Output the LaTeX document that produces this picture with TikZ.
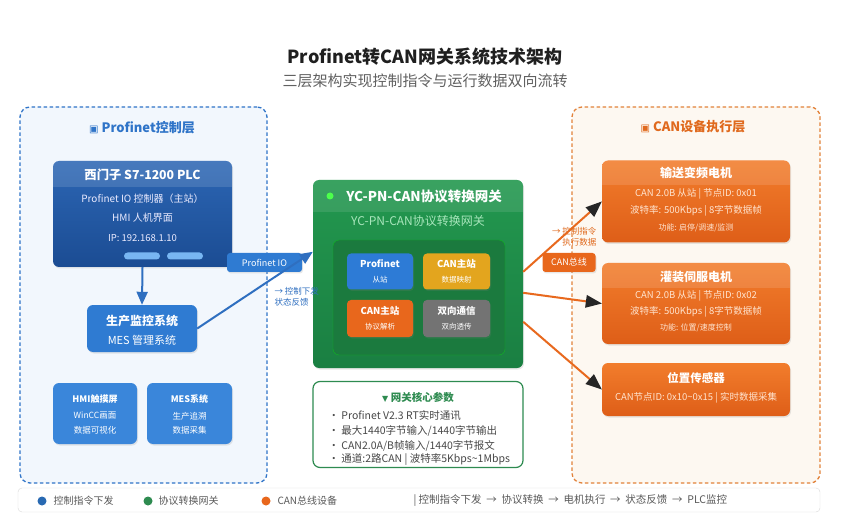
\documentclass[tikz,border=0pt]{standalone}
\usepackage{fontspec}
\setmainfont{Noto Sans CJK SC}
\newfontfamily\symfont{DejaVu Sans}
\usetikzlibrary{calc,shadows,arrows.meta}

\definecolor{pnline}{HTML}{2F74C8}
\definecolor{pnbg}{HTML}{F2F7FD}
\definecolor{plctop}{HTML}{2C66B4}
\definecolor{plcbot}{HTML}{1B4C93}
\definecolor{mesblue}{HTML}{2F7BD2}
\definecolor{hmiblue}{HTML}{3A86DA}
\definecolor{pillblue}{HTML}{78B6F2}
\definecolor{gwtop}{HTML}{23984F}
\definecolor{gwbot}{HTML}{1A7F42}
\definecolor{gwinner}{HTML}{1B7A3E}
\definecolor{gwsubtxt}{HTML}{A8E6BC}
\definecolor{slotblue}{HTML}{2D7BD6}
\definecolor{slotamber}{HTML}{E3A51E}
\definecolor{slotorange}{HTML}{E8671C}
\definecolor{slotgray}{HTML}{737373}
\definecolor{parline}{HTML}{2E8B50}
\definecolor{canline}{HTML}{E2823A}
\definecolor{canbg}{HTML}{FDF8F1}
\definecolor{cantxt}{HTML}{E06A1E}
\definecolor{motortop}{HTML}{F27D2C}
\definecolor{motorbot}{HTML}{DE5E18}
\definecolor{motortxt}{HTML}{FFE4CF}
\definecolor{arrowblue}{HTML}{2F6FC0}
\definecolor{arroworange}{HTML}{E8691E}
\definecolor{tipdark}{HTML}{262626}

\newcommand\fsz[1]{\fontsize{#1}{#1}\selectfont}

\begin{document}
\begin{tikzpicture}[
    x=1pt, y=-1pt,
    box/.style={inner sep=0pt, rounded corners=6pt,
      drop shadow={opacity=.18, shadow xshift=1pt, shadow yshift=-1.5pt}},
    layer/.style={inner sep=0pt, rounded corners=10pt,
      dash pattern=on 3.5pt off 2.5pt, line width=1.3pt},
    layerhead/.style={font=\bfseries\fsz{13}},
    tag/.style={box, rounded corners=3pt, text=white, font=\fsz{9}},
    slot/.style={box, rounded corners=4pt, minimum width=66, minimum height=36},
    slottitle/.style={text=white, font=\bfseries\fsz{9.5}},
    slotsub/.style={text=white!85, font=\fsz{7.5}},
    wtitle/.style={text=white, font=\bfseries\fsz{12.3}},
    plcline/.style={text=blue!8, font=\fsz{10}},
    motortitle/.style={text=white, font=\bfseries\fsz{12}},
    motorline/.style={text=motortxt, font=\fsz{9.5}},
    bullet/.style={anchor=west, text=black!72, font=\fsz{10.5}},
    legendtext/.style={anchor=west, text=black!65, font=\fsz{10}},
    dot/.style={circle, inner sep=0pt, minimum size=9},
    bluearrow/.style={draw=arrowblue, line width=2pt,
      -{Triangle[length=13pt, width=11pt]}},
    orangeline/.style={draw=arroworange, line width=2pt, shorten >=8pt},
    darktip/.style={fill=tipdark},
  ]

  \useasboundingbox (0,0) rectangle (845,518);
  \fill[white] (0,0) rectangle (845,518);

  % title
  \node[font=\bfseries\fsz{18}, text=black!88] (title) at (425,57) {Profinet转CAN网关系统技术架构};
  \node[font=\fsz{15}, text=black!62] (subtitle) at (425,81) {三层架构实现控制指令与运行数据双向流转};

  % Profinet control layer
  \node[layer, draw=pnline, fill=pnbg, minimum width=247, minimum height=376] (ctrlpanel) at (143.5,295) {};
  \node[layerhead, text=pnline] (ctrlhead) at (142,128) {{\symfont\fsz{10}▣} Profinet控制层};

  \node[box, top color=plctop, bottom color=plcbot, minimum width=179, minimum height=106] (plc) at (142.5,214) {};
  \coordinate (plchdr) at (142.5,187);
  \fill[white, fill opacity=.13] (plc.west |- plchdr) [rounded corners=6pt] -- (plc.north west)
    -- (plc.north east) [sharp corners] -- (plc.east |- plchdr) -- cycle;
  \node[wtitle] (plctitle) at (142.5,175) {西门子 S7-1200 PLC};
  \node[plcline] (plcio) at (142.5,199) {Profinet IO 控制器（主站）};
  \node[plcline] (plchmi) at (142.5,218) {HMI 人机界面};
  \node[plcline, font=\fsz{9.5}] (plcip) at (142.5,238) {IP: 192.168.1.10};
  \node[fill=pillblue, rounded corners=3.5pt, minimum width=36, minimum height=7, inner sep=0pt] (pillA) at (142,256) {};
  \node[fill=pillblue, rounded corners=3.5pt, minimum width=36, minimum height=7, inner sep=0pt] (pillB) at (185,256) {};

  \node[box, fill=mesblue, minimum width=110, minimum height=47] (mes) at (142,328.5) {};
  \node[wtitle, font=\bfseries\fsz{12}] (mestitle) at (142,321) {生产监控系统};
  \node[text=white!90, font=\fsz{11}] (messub) at (142,340) {MES 管理系统};

  \node[box, fill=hmiblue, minimum width=84, minimum height=61] (hmi) at (95,413.5) {};
  \node[text=white, font=\bfseries\fsz{9}] (hmititle) at (95,399) {HMI触摸屏};
  \node[slotsub, font=\fsz{8.5}] (hmiA) at (95,416) {WinCC画面};
  \node[slotsub, font=\fsz{8.5}] (hmiB) at (95,430) {数据可视化};

  \node[box, fill=hmiblue, minimum width=85, minimum height=61] (messys) at (189.5,413.5) {};
  \node[text=white, font=\bfseries\fsz{9}] (messystitle) at (189.5,399) {MES系统};
  \node[slotsub, font=\fsz{8.5}] (messysA) at (189.5,416) {生产追溯};
  \node[slotsub, font=\fsz{8.5}] (messysB) at (189.5,430) {数据采集};

  \draw[bluearrow] (plc.south) -- (mes.north);

  % CAN execution layer
  \node[layer, draw=canline, fill=canbg, minimum width=248, minimum height=376] (execpanel) at (696,295) {};
  \node[layerhead, text=cantxt] (exechead) at (693,127) {{\symfont\fsz{10}▣} CAN设备执行层};

  \node[box, top color=motortop, bottom color=motorbot, minimum width=188, minimum height=82] (motorA) at (696,201.5) {};
  \fill[white, fill opacity=.12] (motorA.west |- 0,185) [rounded corners=6pt] -- (motorA.north west)
    -- (motorA.north east) [sharp corners] -- (motorA.east |- 0,185) -- cycle;
  \node[motortitle] (motorAt) at (696,173) {输送变频电机};
  \node[motorline] (motorA1) at (696,194) {CAN 2.0B 从站 | 节点ID: 0x01};
  \node[motorline] (motorA2) at (696,211) {波特率: 500Kbps | 8字节数据帧};
  \node[motorline, font=\fsz{8}] (motorA3) at (696,228) {功能: 启停/调速/监测};

  \node[box, top color=motortop, bottom color=motorbot, minimum width=188, minimum height=81] (motorB) at (696,303.5) {};
  \fill[white, fill opacity=.12] (motorB.west |- 0,288) [rounded corners=6pt] -- (motorB.north west)
    -- (motorB.north east) [sharp corners] -- (motorB.east |- 0,288) -- cycle;
  \node[motortitle] (motorBt) at (696,277) {灌装伺服电机};
  \node[motorline] (motorB1) at (696,296) {CAN 2.0B 从站 | 节点ID: 0x02};
  \node[motorline] (motorB2) at (696,312) {波特率: 500Kbps | 8字节数据帧};
  \node[motorline, font=\fsz{8}] (motorB3) at (696,328) {功能: 位置/速度控制};

  \node[box, top color=motortop, bottom color=motorbot, minimum width=188, minimum height=53] (sensor) at (696,389.5) {};
  \node[motortitle, font=\bfseries\fsz{11.5}] (sensort) at (696,378) {位置传感器};
  \node[motorline] (sensor1) at (696,398) {CAN节点ID: 0x10\textasciitilde 0x15 | 实时数据采集};

  % gateway
  \node[box, top color=gwtop, bottom color=gwbot, minimum width=210, minimum height=188] (gw) at (418,274) {};
  \fill[white, fill opacity=.1] (gw.west |- 0,212) [rounded corners=6pt] -- (gw.north west)
    -- (gw.north east) [sharp corners] -- (gw.east |- 0,212) -- cycle;
  \node[dot, fill=green!70!white, minimum size=7] (gwdot) at (330,196) {};
  \node[text=white, font=\bfseries\fsz{13.5}] (gwtitle) at (424,196) {YC-PN-CAN协议转换网关};
  \node[text=gwsubtxt, font=\fsz{12}] (gwsub) at (418,221) {YC-PN-CAN协议转换网关};
  \node[fill=gwinner, draw=green!45!gwinner, rounded corners=6pt, minimum width=172, minimum height=115, inner sep=0pt] (gwcore) at (419,297.5) {};

  \node[slot, fill=slotblue] (pnslave) at (380,271.5) {};
  \node[slottitle] at (380,264) (pnslaveT) {Profinet};
  \node[slotsub] at (380,280) (pnslaveS) {从站};
  \node[slot, fill=slotamber, minimum width=67] (canmap) at (456.5,271.5) {};
  \node[slottitle] at (456.5,264) (canmapT) {CAN主站};
  \node[slotsub] at (456.5,280) (canmapS) {数据映射};
  \node[slot, fill=slotorange, minimum height=37] (canparse) at (380,318.5) {};
  \node[slottitle] at (380,311) (canparseT) {CAN主站};
  \node[slotsub] at (380,327) (canparseS) {协议解析};
  \node[slot, fill=slotgray, minimum width=67, minimum height=37] (biway) at (456.5,318.5) {};
  \node[slottitle] at (456.5,311) (biwayT) {双向通信};
  \node[slotsub] at (456.5,327) (biwayS) {双向透传};

  % gateway parameters
  \node[fill=white, draw=parline, line width=1.2pt, rounded corners=7pt, minimum width=210, minimum height=86, inner sep=0pt] (params) at (418,424.5) {};
  \node[text=parline, font=\bfseries\fsz{10.5}] (parhead) at (418,397) {{\symfont\fsz{8}▼} 网关核心参数};
  \node[bullet] (parA) at (325,416) {• Profinet V2.3 RT实时通讯};
  \node[bullet] (parB) at (325,431) {• 最大1440字节输入/1440字节输出};
  \node[bullet] (parC) at (325,446) {• CAN2.0A/B帧输入/1440字节报文};
  \node[bullet] (parD) at (325,460) {• 通道:2路CAN | 波特率5Kbps\textasciitilde 1Mbps};

  % Profinet link
  \node[tag, fill=mesblue, minimum width=75, minimum height=19] (pnio) at (264.5,262.5) {Profinet IO};
  \coordinate (gwin) at ($(gw.north west)+(0,72)$);
  \draw[bluearrow] (mes.east) -- (gwin);
  \node[text=arrowblue, font=\fsz{8.5}, align=left, anchor=west] (pntext) at (271,297) {→ 控制下发\\[2pt]状态反馈};

  % CAN bus links
  \coordinate (gwoutA) at ($(gw.north east)+(0,92)$);
  \coordinate (gwoutB) at ($(gw.north east)+(0,113)$);
  \coordinate (gwoutC) at ($(gw.north east)+(0,142)$);
  \draw[orangeline] (gwoutA) -- (motorA.west);
  \draw[orangeline] (gwoutB) -- (motorB.west);
  \draw[orangeline] (gwoutC) -- (sensor.west);
  \coordinate (tipA) at ($(motorA.west)!16pt!(gwoutA)$);
  \coordinate (tipB) at ($(motorB.west)!16pt!(gwoutB)$);
  \coordinate (tipC) at ($(sensor.west)!16pt!(gwoutC)$);
  \fill[darktip] (motorA.west) -- ($(tipA)!6.5pt!90:(motorA.west)$) -- ($(tipA)!6.5pt!-90:(motorA.west)$) -- cycle;
  \fill[darktip] (motorB.west) -- ($(tipB)!6.5pt!90:(motorB.west)$) -- ($(tipB)!6.5pt!-90:(motorB.west)$) -- cycle;
  \fill[darktip] (sensor.west) -- ($(tipC)!6.5pt!90:(sensor.west)$) -- ($(tipC)!6.5pt!-90:(sensor.west)$) -- cycle;
  \node[tag, fill=slotorange, minimum width=53, minimum height=19] (cantag) at (569,262.5) {CAN总线};
  \node[text=cantxt, font=\fsz{8.5}, align=right, anchor=east] (cantext) at (600,237) {→ 控制指令\\[2pt]执行数据};

  % legend
  \node[fill=white, draw=black!15, rounded corners=4pt, minimum width=802, minimum height=24, inner sep=0pt] (legend) at (419,500) {};
  \node[dot, fill=mesblue!85!black] (dotA) at (42,501) {};
  \node[legendtext] (legA) at (50,501) {控制指令下发};
  \node[dot, fill=parline] (dotB) at (148,501) {};
  \node[legendtext] (legB) at (155,501) {协议转换网关};
  \node[dot, fill=slotorange] (dotC) at (266,501) {};
  \node[legendtext] (legC) at (274,501) {CAN总线设备};
  \node[legendtext, font=\fsz{10.5}] (legflow) at (410,501) {|~控制指令下发~~→~~协议转换~~→~~电机执行~~→~~状态反馈~~→~~PLC监控};

\end{tikzpicture}
\end{document}
